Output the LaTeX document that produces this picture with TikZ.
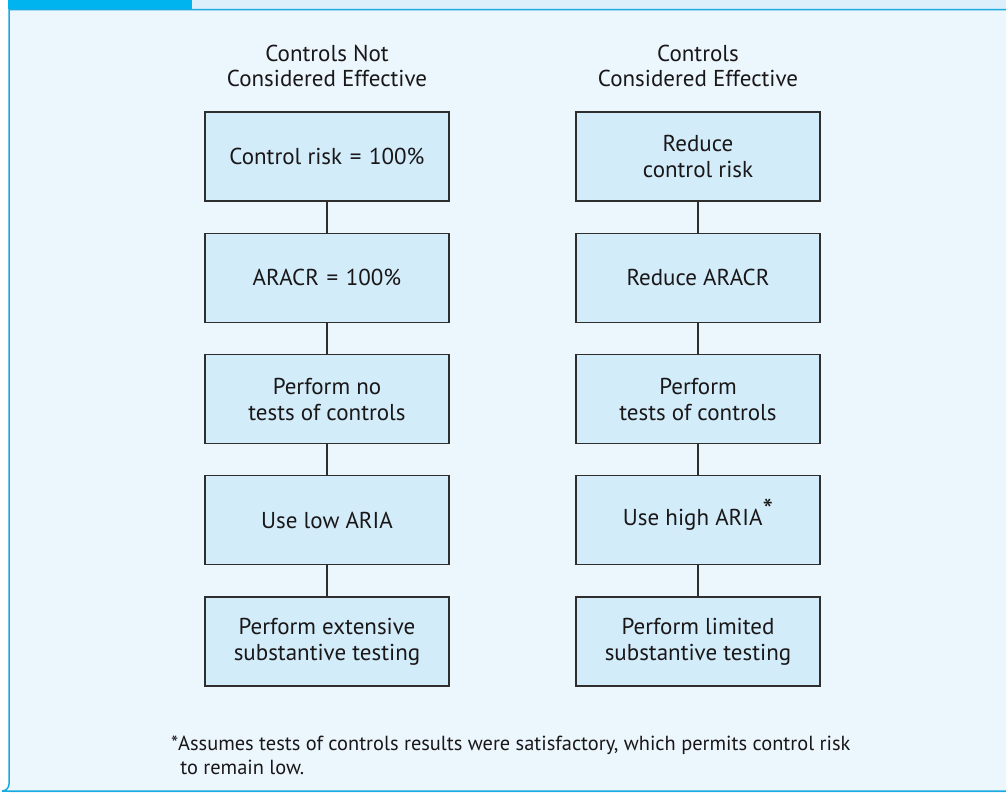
\documentclass[tikz,border=0pt]{standalone}
\usepackage{fontspec}
\setmainfont{PT Sans}
\definecolor{bg}{HTML}{EBF6FD}
\definecolor{band}{HTML}{DDEFFB}
\definecolor{tab}{HTML}{00B4EF}
\definecolor{frame}{HTML}{1AAAE2}
\definecolor{boxfill}{HTML}{D3ECFA}
\definecolor{boxline}{HTML}{2E2E2E}
\definecolor{txt}{HTML}{1A1718}
\tikzset{
  stepbox/.style={draw=boxline, line width=1.3pt, fill=boxfill, minimum width=244pt, minimum height=89pt, inner sep=0pt, align=center, font=\fontsize{23}{26}\selectfont, text=txt},
  head/.style={align=center, font=\fontsize{23}{25}\selectfont, text=txt, inner sep=0pt},
  link/.style={draw=boxline, line width=1.8pt},
  note/.style={align=left, font=\fontsize{20.4}{24}\selectfont, text=txt, inner sep=0pt, anchor=north west}
}
\begin{document}
\begin{tikzpicture}[x=1pt,y=-1pt]
\useasboundingbox (0,0) rectangle (1006,793);
% background and frame
\fill[white] (0,0) rectangle (1006,793);
\fill[bg] (9,9) rectangle (1006,793);
\fill[band] (8,0) rectangle (1006,9);
\fill[tab] (8,0) rectangle (192,9);
\draw[frame, line width=1.5pt] (1006,9.5) -- (9,9.5) -- (9,784) arc[start angle=180, end angle=270, radius=-7] -- (1006,791);
% headers
\node[head] (hl) at (327,66) {Controls Not\\Considered Effective};
\node[head] (hr) at (698,66) {Controls\\Considered Effective};
% left column
\node[stepbox] (l1) at (327,156.5) {Control risk\,\,=\,\,100\%};
\node[stepbox] (l2) at (327,277.75) {ARACR\,\,=\,\,100\%};
\node[stepbox] (l3) at (327,399) {Perform no\\tests of controls};
\node[stepbox] (l4) at (327,520.25) {Use low ARIA};
\node[stepbox] (l5) at (327,641.5) {Perform extensive\\substantive testing};
% right column
\node[stepbox] (r1) at (698,156.5) {Reduce\\control risk};
\node[stepbox] (r2) at (698,277.75) {Reduce ARACR};
\node[stepbox] (r3) at (698,399) {Perform\\tests of controls};
\node[stepbox] (r4) at (698,520.25) {Use high ARIA\raisebox{0.45ex}[0pt][0pt]{\fontsize{30}{30}\selectfont *}};
\node[stepbox] (r5) at (698,641.5) {Perform limited\\substantive testing};
% links
\foreach \a/\b in {l1/l2,l2/l3,l3/l4,l4/l5,r1/r2,r2/r3,r3/r4,r4/r5}
  \draw[link] (\a.south) -- (\b.north);
% footnote
\node[note] (fn) at (171,736) {*Assumes tests of controls results were satisfactory, which permits control risk\\\hspace*{0.45em}to remain low.};
\end{tikzpicture}
\end{document}
